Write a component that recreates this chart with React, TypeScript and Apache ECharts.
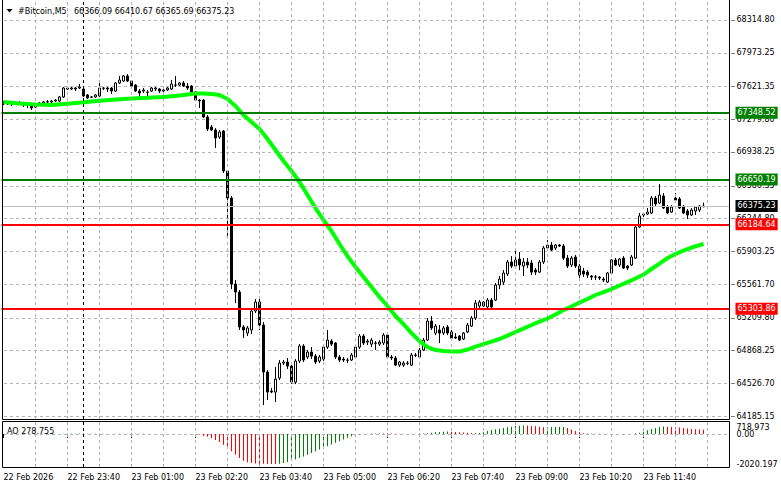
import { useEffect, useRef } from 'react';
import * as echarts from 'echarts';

// ---------- DATA ----------
// [open, close, low, high] per 5-minute bar, starting 22 Feb 22:20
const candles: number[][] = [
  [67449,67439,67428,67470],[67439,67449,67428,67460],[67449,67439,67418,67460],[67439,67449,67428,67460],
  [67449,67439,67428,67470],[67439,67428,67407,67460],[67428,67430,67397,67449],[67439,67397,67376,67449],
  [67407,67439,67397,67449],[67439,67449,67428,67460],[67449,67460,67439,67470],[67460,67462,67449,67480],
  [67460,67470,67449,67480],[67470,67480,67460,67491],[67470,67512,67460,67522],[67512,67605,67501,67616],
  [67605,67595,67585,67616],[67595,67605,67585,67616],[67605,67595,67574,67616],[67605,67616,67595,67647],
  [67595,67522,67512,67616],[67533,67501,67491,67543],[67512,67510,67501,67522],[67512,67533,67501,67543],
  [67522,67605,67512,67679],[67605,67603,67585,67616],[67605,67595,67564,67616],[67605,67574,67543,67616],
  [67574,67658,67564,67668],[67658,67689,67647,67731],[67679,67731,67668,67741],[67731,67679,67668,67751],
  [67679,67626,67605,67689],[67637,67574,67564,67647],[67574,67553,67512,67595],[67574,67585,67553,67605],
  [67564,67562,67512,67585],[67574,67605,67564,67616],[67595,67605,67574,67616],[67595,67574,67553,67605],
  [67574,67585,67522,67595],[67585,67605,67574,67616],[67595,67647,67585,67689],[67637,67635,67616,67731],
  [67637,67658,67626,67668],[67658,67626,67616,67679],[67626,67605,67585,67658],[67626,67564,67553,67637],
  [67564,67480,67470,67574],[67480,67470,67397,67491],[67480,67303,67293,67491],[67303,67178,67157,67324],
  [67199,67168,67157,67220],[67168,67084,66980,67188],[67094,67147,67074,67168],[67157,66740,66719,67168],
  [66740,66458,66041,66750],[66458,65561,65509,66479],[65561,65478,65363,65603],[65478,65113,65082,65499],
  [65113,65082,64998,65134],[65050,65103,65019,65123],[65082,65280,65040,65301],[65280,65374,65259,65405],
  [65374,65134,65082,65405],[65134,64643,64299,65165],[64643,64435,64351,64664],[64445,64435,64424,64477],
  [64435,64570,64331,64696],[64581,64737,64560,64769],[64737,64748,64716,64769],[64748,64706,64675,64790],
  [64706,64539,64518,64727],[64539,64758,64518,64779],[64758,64915,64737,64935],[64915,64769,64748,64935],
  [64800,64852,64779,64873],[64852,64810,64779,64904],[64810,64748,64727,64831],[64758,64800,64737,64821],
  [64779,64904,64758,64925],[64904,64977,64883,65082],[64967,64935,64915,64988],[64946,64800,64779,64956],
  [64800,64769,64748,64821],[64779,64769,64748,64800],[64769,64767,64737,64790],[64769,64821,64758,64842],
  [64800,64904,64790,64925],[64904,65019,64883,65040],[65019,64946,64925,65040],[64956,64967,64925,64988],
  [64935,64977,64904,64998],[64946,64944,64873,64967],[64935,64956,64915,64977],[64946,65029,64925,65050],
  [65029,64800,64779,65050],[64800,64790,64769,64821],[64790,64716,64706,64810],[64716,64748,64696,64758],
  [64716,64737,64696,64758],[64737,64735,64716,64758],[64716,64821,64706,64842],[64821,64819,64800,64842],
  [64800,64873,64790,64894],[64873,64977,64862,64998],[64977,65175,64967,65207],[65175,65103,65082,65228],
  [65050,65123,65029,65144],[65082,65050,64946,65134],[65050,65103,65029,65123],[65113,65050,65029,65134],
  [65061,64998,64977,65082],[65009,64998,64988,65050],[65019,64977,64967,65029],[64988,65050,64977,65061],
  [65061,65134,65050,65155],[65123,65207,65113,65228],[65207,65363,65186,65394],[65332,65374,65311,65394],
  [65332,65374,65322,65384],[65322,65394,65311,65415],[65394,65322,65290,65415],[65394,65551,65384,65572],
  [65551,65613,65509,65645],[65582,65676,65551,65707],[65666,65791,65645,65812],[65791,65749,65728,65853],
  [65749,65812,65728,65916],[65822,65760,65707,65895],[65749,65791,65645,65832],[65791,65760,65728,65832],
  [65781,65686,65655,65812],[65707,65686,65655,65728],[65686,65791,65676,65812],[65791,65937,65770,65958],
  [65937,65968,65916,66020],[65968,65916,65906,65999],[65937,65968,65916,65979],[65968,65958,65947,65979],
  [65958,65832,65812,65979],[65832,65749,65728,65864],[65760,65832,65739,65853],[65843,65749,65728,65864],
  [65749,65655,65624,65770],[65697,65666,65634,65728],[65686,65655,65624,65707],[65645,65634,65603,65655],
  [65634,65636,65603,65655],[65634,65624,65603,65645],[65613,65603,65582,65634],[65582,65676,65572,65686],
  [65676,65812,65666,65822],[65812,65760,65749,65832],[65760,65822,65739,65832],[65832,65728,65718,65853],
  [65749,65728,65707,65760],[65760,65843,65749,65864],[65832,66156,65822,66166],[66156,66271,66145,66302],
  [66281,66291,66260,66312],[66291,66312,66281,66354],[66302,66458,66291,66479],[66458,66396,66375,66479],
  [66406,66489,66396,66604],[66479,66354,66344,66510],[66364,66302,66291,66385],[66312,66364,66302,66385],
  [66458,66437,66417,66510],[66448,66354,66344,66469],[66364,66302,66291,66385],[66323,66281,66239,66344],
  [66281,66333,66271,66354],[66323,66364,66281,66375],[66333,66375,66312,66385],[66366.09,66375.23,66365.69,66410.67],
];

// moving average read at sample bars
const maBars = [0,4,8,12,16,20,24,28,32,36,40,44,48,50,52,54,56,58,60,62,64,66,68,70,72,74,76,78,80,82,84,86,88,90,92,94,96,98,100,102,104,106,108,110,112,114,116,118,120,122,124,126,128,130,132,134,136,138,140,142,144,146,148,150,152,154,156,158,160,162,164,166,168,170,172,174,175];
const maValues = [67460,67444,67434,67428,67442,67456,67472,67486,67496,67503,67512,67527,67548,67548,67543,67533,67491,67418,67324,67251,67178,67074,66959,66844,66740,66625,66490,66354,66229,66114,65979,65853,65739,65634,65530,65426,65332,65228,65144,65050,64967,64904,64873,64862,64857,64857,64878,64909,64935,64961,64988,65024,65061,65097,65134,65170,65202,65243,65290,65327,65368,65405,65447,65478,65509,65546,65582,65619,65660,65718,65775,65832,65874,65911,65942,65968,65979];

// Awesome Oscillator per bar
const aoValues: (number | null)[] = [
  null,null,null,null,null,null,null,null,null,null,null,null,null,null,null,
  10,15,20,25,30,
  28,25,22,18,15,12,8,5,
  10,15,20,25,30,
  25,18,10,
  null,null,null,null,null,null,null,null,null,null,null,null,null,
  -30,-120,-190,-280,-400,-540,-720,-930,-1160,-1400,-1620,-1800,-1900,-1960,-1990,-2000,-2005,-2010,-2015,-2020.197,
  -2000,-1950,-1880,-1800,-1720,-1620,-1520,-1400,-1280,-1160,-1050,-930,-820,-700,-590,-480,-370,-260,-150,-60,
  -20,10,25,35,40,45,42,38,30,25,18,12,8,15,22,30,40,55,
  80,110,140,155,165,
  150,135,120,105,90,75,60,
  70,110,200,270,315,360,405,450,490,540,560,575,
  560,540,515,485,455,
  460,465,470,475,478,
  400,300,200,110,50,
  30,40,25,15,20,10,5,8,-5,-10,-5,0,
  45,90,155,260,340,410,470,500,
  490,475,455,430,400,370,345,320,300,278.755,
];

const priceTicks = [68314.80, 67973.25, 67621.35, 67279.80, 66938.25, 66586.35, 66244.80, 65903.25, 65561.70, 65209.80, 64868.25, 64526.70, 64185.15];
const levelValues = [67348.52, 66650.19, 66184.64, 65303.86];
const lastPrice = 66375.23;
const aoTicks = [718.973, 0, -2020.197];
const aoTickLabels = ['718.973', '0.00', '-2020.197'];
const timeLabels = ['22 Feb 2026','22 Feb 23:40','23 Feb 01:00','23 Feb 02:20','23 Feb 03:40','23 Feb 05:00','23 Feb 06:20','23 Feb 07:40','23 Feb 09:00','23 Feb 10:20','23 Feb 11:40'];
const headerSymbol = '#Bitcoin,M5';
const headerOHLC = ['66366.09', '66410.67', '66365.69', '66375.23'];
const aoHeader = 'AO 278.755';

// ---------- STYLE / LAYOUT ----------
const FONT = '"DejaVu Sans", Verdana, sans-serif';
const FS = 8;
const LEVEL_COLORS = ['#008000', '#008000', '#ff0000', '#ff0000'];
const N_SLOTS = 182;
const LABEL_STEP = 16;
const GRID_STEP = 8;
const DAY_SEPARATOR = 20;
const PRICE_MIN = 64153.9;
const PRICE_MAX = 68512.9;
const AO_MIN = -2222;
const AO_MAX = 808;

const categories = Array.from({ length: N_SLOTS }, (_, i) => {
  const t = 22 * 60 + 20 + 5 * i;
  const day = t >= 1440 ? 23 : 22;
  const m = t % 1440;
  return `${day} Feb ${String(Math.floor(m / 60)).padStart(2, '0')}:${String(m % 60).padStart(2, '0')}`;
});

// horizontal dotted grid line drawn through the axis scale, built from short rects on the pixel grid
const gridLineRenderer = (withOuterTick: boolean) => (params: any, api: any) => {
  const p = api.coord([0, api.value(1)]);
  const cs = params.coordSys;
  const y = Math.round(p[1]);
  const children: any[] = [];
  const x0 = Math.round(cs.x) + 2;
  const x1 = Math.round(cs.x + cs.width);
  for (let x = x0; x < x1; x += 6) {
    children.push({
      type: 'rect',
      shape: { x, y, width: Math.min(3, x1 - x), height: 1 },
      style: { fill: '#b4b4b4' },
    });
  }
  if (withOuterTick) {
    children.push({
      type: 'rect',
      shape: { x: x1 + 1, y, width: 4, height: 1 },
      style: { fill: '#808080' },
    });
  }
  return { type: 'group', children };
};

export default function App() {
  const ref = useRef<HTMLDivElement>(null);

  useEffect(() => {
    if (!ref.current) return;
    const chart = echarts.init(ref.current, null, { renderer: 'svg' });

    const vGrid: any[] = [];
    for (let i = GRID_STEP; i < N_SLOTS - 4; i += GRID_STEP) vGrid.push({ xAxis: i, label: { show: false } });
    const sepLine = {
      xAxis: DAY_SEPARATOR,
      label: { show: false },
      lineStyle: { color: '#000', type: [3, 3], width: 1 },
    };

    const aoData = aoValues.map((v, i) => {
      if (v === null) return null;
      const prev = i > 0 && aoValues[i - 1] !== null ? (aoValues[i - 1] as number) : 0;
      return { value: v, itemStyle: { color: v > prev ? '#008000' : '#ff0000' } };
    });

    const maData = maBars.slice(0, maValues.length).map((b, k) => [b, maValues[k]]);

    const labelInterval = (idx: number) => idx % LABEL_STEP === 0 && idx / LABEL_STEP < timeLabels.length;

    const graphic: any[] = [
      { type: 'line', z: 100, shape: { x1: 2.5, y1: 0, x2: 2.5, y2: 419.5 }, style: { stroke: '#000', lineWidth: 1 } },
      { type: 'line', z: 100, shape: { x1: 729.5, y1: 0, x2: 729.5, y2: 419.5 }, style: { stroke: '#000', lineWidth: 1 } },
      { type: 'line', z: 100, shape: { x1: 2.5, y1: 419.5, x2: 729.5, y2: 419.5 }, style: { stroke: '#000', lineWidth: 1 } },
      { type: 'rect', z: 100, shape: { x: 2.5, y: 421.5, width: 727, height: 46 }, style: { stroke: '#000', fill: 'none', lineWidth: 1 } },
      { type: 'polygon', z: 100, shape: { points: [[6.5, 9], [12.5, 9], [9.5, 12.5]] }, style: { fill: '#000' } },
      {
        type: 'text', z: 100, x: 18, y: 11,
        style: { text: headerSymbol, fill: '#000', font: `${FS}px ${FONT}`, verticalAlign: 'middle', align: 'left' },
      },
      {
        type: 'text', z: 100, x: 74, y: 11,
        style: { text: headerOHLC.join(' '), fill: '#000', font: `${FS}px ${FONT}`, verticalAlign: 'middle', align: 'left' },
      },
      {
        type: 'text', z: 100, x: 7, y: 431,
        style: { text: aoHeader, fill: '#000', font: `${FS}px ${FONT}`, verticalAlign: 'middle', align: 'left' },
      },
    ];

    const option: any = {
      animation: false,
      backgroundColor: '#ffffff',
      grid: [
        { left: 1.5, top: 1, width: 728, height: 418 },
        { left: 1.5, top: 422, width: 728, height: 45 },
      ],
      xAxis: [
        {
          type: 'category', gridIndex: 0, data: categories, boundaryGap: true,
          axisLine: { show: false }, axisTick: { show: false }, axisLabel: { show: false }, splitLine: { show: false },
        },
        {
          type: 'category', gridIndex: 1, data: categories, boundaryGap: true,
          axisLine: { show: false },
          axisTick: { show: true, alignWithLabel: true, interval: labelInterval, length: 4, lineStyle: { color: '#000' } },
          axisLabel: {
            show: true, interval: labelInterval, align: 'left', margin: 6,
            fontSize: FS, fontFamily: FONT, color: '#000',
            formatter: (_v: string, idx: number) => (idx % LABEL_STEP === 0 ? timeLabels[idx / LABEL_STEP] ?? '' : ''),
          },
          splitLine: { show: false },
        },
      ],
      yAxis: [
        { type: 'value', gridIndex: 0, min: PRICE_MIN, max: PRICE_MAX, show: false, splitLine: { show: false } },
        { type: 'value', gridIndex: 1, min: AO_MIN, max: AO_MAX, show: false, splitLine: { show: false } },
      ],
      series: [
        {
          name: 'grid-main', type: 'line', xAxisIndex: 0, yAxisIndex: 0, data: [], silent: true, z: 1,
          markLine: {
            silent: true, symbol: ['none', 'none'], animation: false,
            lineStyle: { color: '#b0b0b0', type: [3, 3], width: 1 },
            label: { show: false },
            data: [...vGrid, sepLine],
          },
        },
        {
          name: 'price-grid-lines', type: 'custom', xAxisIndex: 0, yAxisIndex: 0, silent: true, z: 2, clip: false,
          data: priceTicks.map((v) => [0, v]),
          encode: { x: 0, y: 1 },
          renderItem: gridLineRenderer(true),
        },
        {
          name: 'Bitcoin', type: 'candlestick', xAxisIndex: 0, yAxisIndex: 0, data: candles, barWidth: 3, z: 3,
          itemStyle: { color: '#ffffff', color0: '#000000', borderColor: '#000000', borderColor0: '#000000', borderWidth: 1 },
        },
        {
          name: 'MA', type: 'line', xAxisIndex: 0, yAxisIndex: 0, data: maData, showSymbol: false, z: 4,
          lineStyle: { color: '#00ff00', width: 4 }, silent: true,
        },
        {
          name: 'price-labels', type: 'line', xAxisIndex: 0, yAxisIndex: 0, data: [], silent: true, z: 2,
          markLine: {
            silent: true, symbol: ['none', 'none'], animation: false,
            label: { show: true, position: 'end', distance: 7, formatter: '{b}', color: '#000', fontSize: FS, fontFamily: FONT },
            data: priceTicks.map((v) => ({
              yAxis: v, name: v.toFixed(2),
              lineStyle: { color: 'rgba(0,0,0,0)', width: 1 },
            })),
          },
        },
        {
          name: 'levels', type: 'line', xAxisIndex: 0, yAxisIndex: 0, data: [], silent: true, z: 6,
          markLine: {
            silent: true, symbol: ['none', 'none'], animation: false,
            label: {
              show: true, position: 'end', distance: 6, formatter: '{b}', color: '#fff',
              fontSize: FS, fontFamily: FONT, padding: [1, 2, 1, 2], lineHeight: 10,
            },
            data: [
              {
                yAxis: lastPrice, name: lastPrice.toFixed(2),
                lineStyle: { color: '#c0c0c0', width: 1, type: 'solid' },
                label: { backgroundColor: '#000000' },
              },
              ...levelValues.map((v, k) => ({
                yAxis: v, name: v.toFixed(2),
                lineStyle: { color: LEVEL_COLORS[k], width: 2, type: 'solid' },
                label: { backgroundColor: LEVEL_COLORS[k] },
              })),
            ],
          },
        },
        {
          name: 'grid-ao', type: 'line', xAxisIndex: 1, yAxisIndex: 1, data: [], silent: true, z: 1,
          markLine: {
            silent: true, symbol: ['none', 'none'], animation: false,
            lineStyle: { color: '#b0b0b0', type: [3, 3], width: 1 },
            label: { show: false },
            data: [...vGrid, sepLine],
          },
        },
        {
          name: 'ao-zero-line', type: 'custom', xAxisIndex: 1, yAxisIndex: 1, silent: true, z: 2, clip: false,
          data: [[0, 0]],
          encode: { x: 0, y: 1 },
          renderItem: gridLineRenderer(false),
        },
        {
          name: 'AO', type: 'bar', xAxisIndex: 1, yAxisIndex: 1, data: aoData, barWidth: 1, z: 3, silent: true,
          markLine: {
            silent: true, symbol: ['none', 'none'], animation: false,
            label: { show: true, position: 'end', distance: 7, formatter: '{b}', color: '#000', fontSize: FS, fontFamily: FONT },
            data: aoTicks.map((v, k) => ({
              yAxis: v, name: aoTickLabels[k],
              lineStyle: { color: 'rgba(0,0,0,0)', width: 1 },
              label: k === 0 ? { verticalAlign: 'top' } : {},
            })),
          },
        },
      ],
      graphic,
    };

    chart.setOption(option);
    return () => chart.dispose();
  }, []);

  return (
    <div
      ref={ref}
      style={{ position: 'fixed', left: 0, top: 0, width: 781, height: 489, background: '#fff' }}
    />
  );
}
